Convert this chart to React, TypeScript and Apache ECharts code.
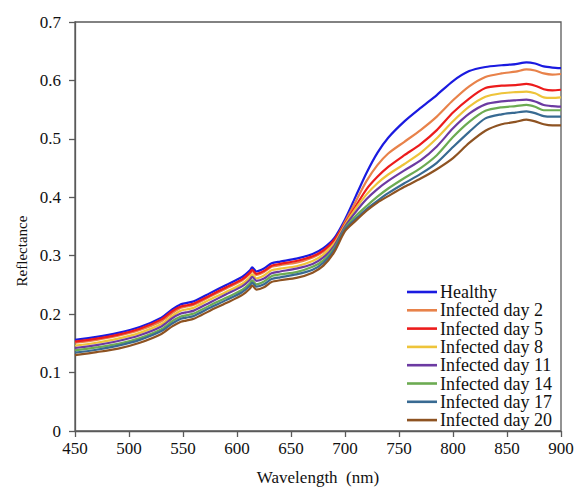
import React, { useEffect, useRef } from "react";
import * as echarts from "echarts";

const wavelengths = [450, 470, 490, 510, 530, 540, 548, 553, 560, 575, 590, 605, 612, 614, 618, 625, 632, 640, 655, 670, 680, 690, 700, 710, 720, 730, 740, 755, 770, 785, 800, 815, 830, 845, 858, 868, 876, 884, 892, 900];

const healthy = [0.156, 0.161, 0.168, 0.178, 0.194, 0.208, 0.217, 0.219, 0.222, 0.236, 0.250, 0.264, 0.275, 0.280, 0.273, 0.278, 0.287, 0.290, 0.295, 0.303, 0.313, 0.330, 0.362, 0.402, 0.442, 0.476, 0.502, 0.530, 0.553, 0.575, 0.599, 0.616, 0.623, 0.626, 0.628, 0.631, 0.629, 0.624, 0.622, 0.621];
const day2 = [0.151, 0.156, 0.163, 0.173, 0.188, 0.202, 0.211, 0.213, 0.216, 0.230, 0.244, 0.258, 0.269, 0.274, 0.267, 0.272, 0.281, 0.284, 0.288, 0.297, 0.307, 0.325, 0.358, 0.393, 0.428, 0.455, 0.475, 0.495, 0.515, 0.538, 0.566, 0.590, 0.606, 0.612, 0.615, 0.619, 0.617, 0.612, 0.610, 0.611];
const day5 = [0.153, 0.158, 0.165, 0.175, 0.191, 0.205, 0.213, 0.215, 0.218, 0.232, 0.246, 0.260, 0.271, 0.276, 0.269, 0.274, 0.283, 0.286, 0.291, 0.299, 0.309, 0.327, 0.355, 0.385, 0.414, 0.435, 0.452, 0.472, 0.491, 0.515, 0.545, 0.569, 0.587, 0.591, 0.592, 0.594, 0.591, 0.585, 0.583, 0.584];
const day8 = [0.146, 0.151, 0.158, 0.168, 0.183, 0.197, 0.206, 0.208, 0.211, 0.225, 0.238, 0.252, 0.263, 0.268, 0.261, 0.266, 0.275, 0.278, 0.282, 0.291, 0.302, 0.321, 0.353, 0.381, 0.405, 0.424, 0.439, 0.457, 0.476, 0.501, 0.530, 0.555, 0.572, 0.578, 0.580, 0.581, 0.578, 0.571, 0.570, 0.571];
const day11 = [0.142, 0.147, 0.154, 0.164, 0.179, 0.193, 0.201, 0.203, 0.206, 0.220, 0.234, 0.248, 0.259, 0.264, 0.257, 0.261, 0.270, 0.273, 0.278, 0.286, 0.297, 0.317, 0.350, 0.375, 0.397, 0.414, 0.428, 0.446, 0.463, 0.487, 0.518, 0.543, 0.559, 0.564, 0.566, 0.567, 0.564, 0.558, 0.556, 0.555];
const day14 = [0.138, 0.143, 0.149, 0.159, 0.174, 0.188, 0.196, 0.198, 0.201, 0.215, 0.228, 0.242, 0.253, 0.258, 0.251, 0.256, 0.265, 0.268, 0.272, 0.281, 0.292, 0.313, 0.347, 0.368, 0.385, 0.401, 0.415, 0.433, 0.450, 0.472, 0.503, 0.529, 0.548, 0.554, 0.556, 0.558, 0.555, 0.549, 0.549, 0.549];
const day17 = [0.134, 0.139, 0.146, 0.156, 0.171, 0.184, 0.192, 0.194, 0.197, 0.211, 0.224, 0.238, 0.249, 0.254, 0.247, 0.251, 0.260, 0.263, 0.268, 0.276, 0.288, 0.310, 0.345, 0.363, 0.380, 0.394, 0.407, 0.424, 0.440, 0.459, 0.486, 0.512, 0.535, 0.542, 0.545, 0.547, 0.544, 0.539, 0.538, 0.538];
const day20 = [0.130, 0.135, 0.141, 0.151, 0.166, 0.179, 0.187, 0.189, 0.192, 0.206, 0.219, 0.233, 0.244, 0.249, 0.242, 0.246, 0.255, 0.258, 0.262, 0.271, 0.283, 0.306, 0.342, 0.360, 0.377, 0.391, 0.402, 0.418, 0.432, 0.448, 0.467, 0.493, 0.514, 0.525, 0.529, 0.533, 0.530, 0.525, 0.523, 0.523];

const seriesNames = ["Healthy", "Infected day 2", "Infected day 5", "Infected day 8", "Infected day 11", "Infected day 14", "Infected day 17", "Infected day 20"];
const seriesValues = [healthy, day2, day5, day8, day11, day14, day17, day20];
const seriesColors = ["#1a1ae0", "#e8824a", "#ec1c1c", "#eec43a", "#6c3aa2", "#6cab52", "#386a92", "#8e5322"];

const FONT = "Liberation Serif";

export default function App() {
  const ref = useRef<HTMLDivElement>(null);
  useEffect(() => {
    document.body.style.margin = "0";
    if (!ref.current) return;
    const chart = echarts.init(ref.current, null, { renderer: "svg" });
    const axisColor = "#5a5a5a";
    chart.setOption({
      animation: false,
      backgroundColor: "#ffffff",
      textStyle: { fontFamily: FONT },
      grid: { left: 75, right: 17, top: 22, bottom: 58, show: true, borderColor: axisColor, borderWidth: 1.3 },
      xAxis: {
        type: "value",
        min: 450,
        max: 900,
        interval: 50,
        name: "Wavelength  (nm)",
        nameLocation: "middle",
        nameGap: 38,
        nameTextStyle: { fontFamily: FONT, fontSize: 17, color: "#111" },
        axisLine: { show: true, lineStyle: { color: axisColor, width: 1.3 } },
        axisTick: { show: true, inside: false, length: 6, lineStyle: { color: axisColor, width: 1.3 } },
        axisLabel: { fontFamily: FONT, fontSize: 17, color: "#111", margin: 9 },
        splitLine: { show: false },
      },
      yAxis: {
        type: "value",
        min: 0,
        max: 0.7,
        interval: 0.1,
        axisLine: { show: true, lineStyle: { color: axisColor, width: 1.3 } },
        axisTick: { show: true, inside: false, length: 6, lineStyle: { color: axisColor, width: 1.3 } },
        axisLabel: {
          fontFamily: FONT,
          fontSize: 17,
          color: "#111",
          margin: 14,
          formatter: (v: number) => (v === 0 ? "0" : v.toFixed(1)),
        },
        splitLine: { show: false },
      },
      legend: {
        orient: "vertical",
        left: 402,
        top: 278,
        icon: "rect",
        itemWidth: 30,
        itemHeight: 2.6,
        itemGap: 0.3,
        textStyle: { fontFamily: FONT, fontSize: 18, lineHeight: 18, color: "#111", padding: [0, 0, 0, -2] },
        data: seriesNames,
      },
      graphic: [
        {
          type: "text",
          x: 22,
          y: 251,
          rotation: Math.PI / 2,
          style: {
            text: "Reflectance",
            fontFamily: FONT,
            fontSize: 15,
            fill: "#111",
            textAlign: "center",
            textVerticalAlign: "middle",
          },
        },
      ],
      series: seriesNames.map((name, i) => ({
        name,
        type: "line",
        data: wavelengths.map((w, j) => [w, seriesValues[i][j]]),
        showSymbol: false,
        symbol: "none",
        smooth: 0.25,
        color: seriesColors[i],
        lineStyle: { width: 2.2, color: seriesColors[i] },
      })),
    });
    return () => chart.dispose();
  }, []);
  return <div ref={ref} style={{ width: 578, height: 491 }} />;
}
